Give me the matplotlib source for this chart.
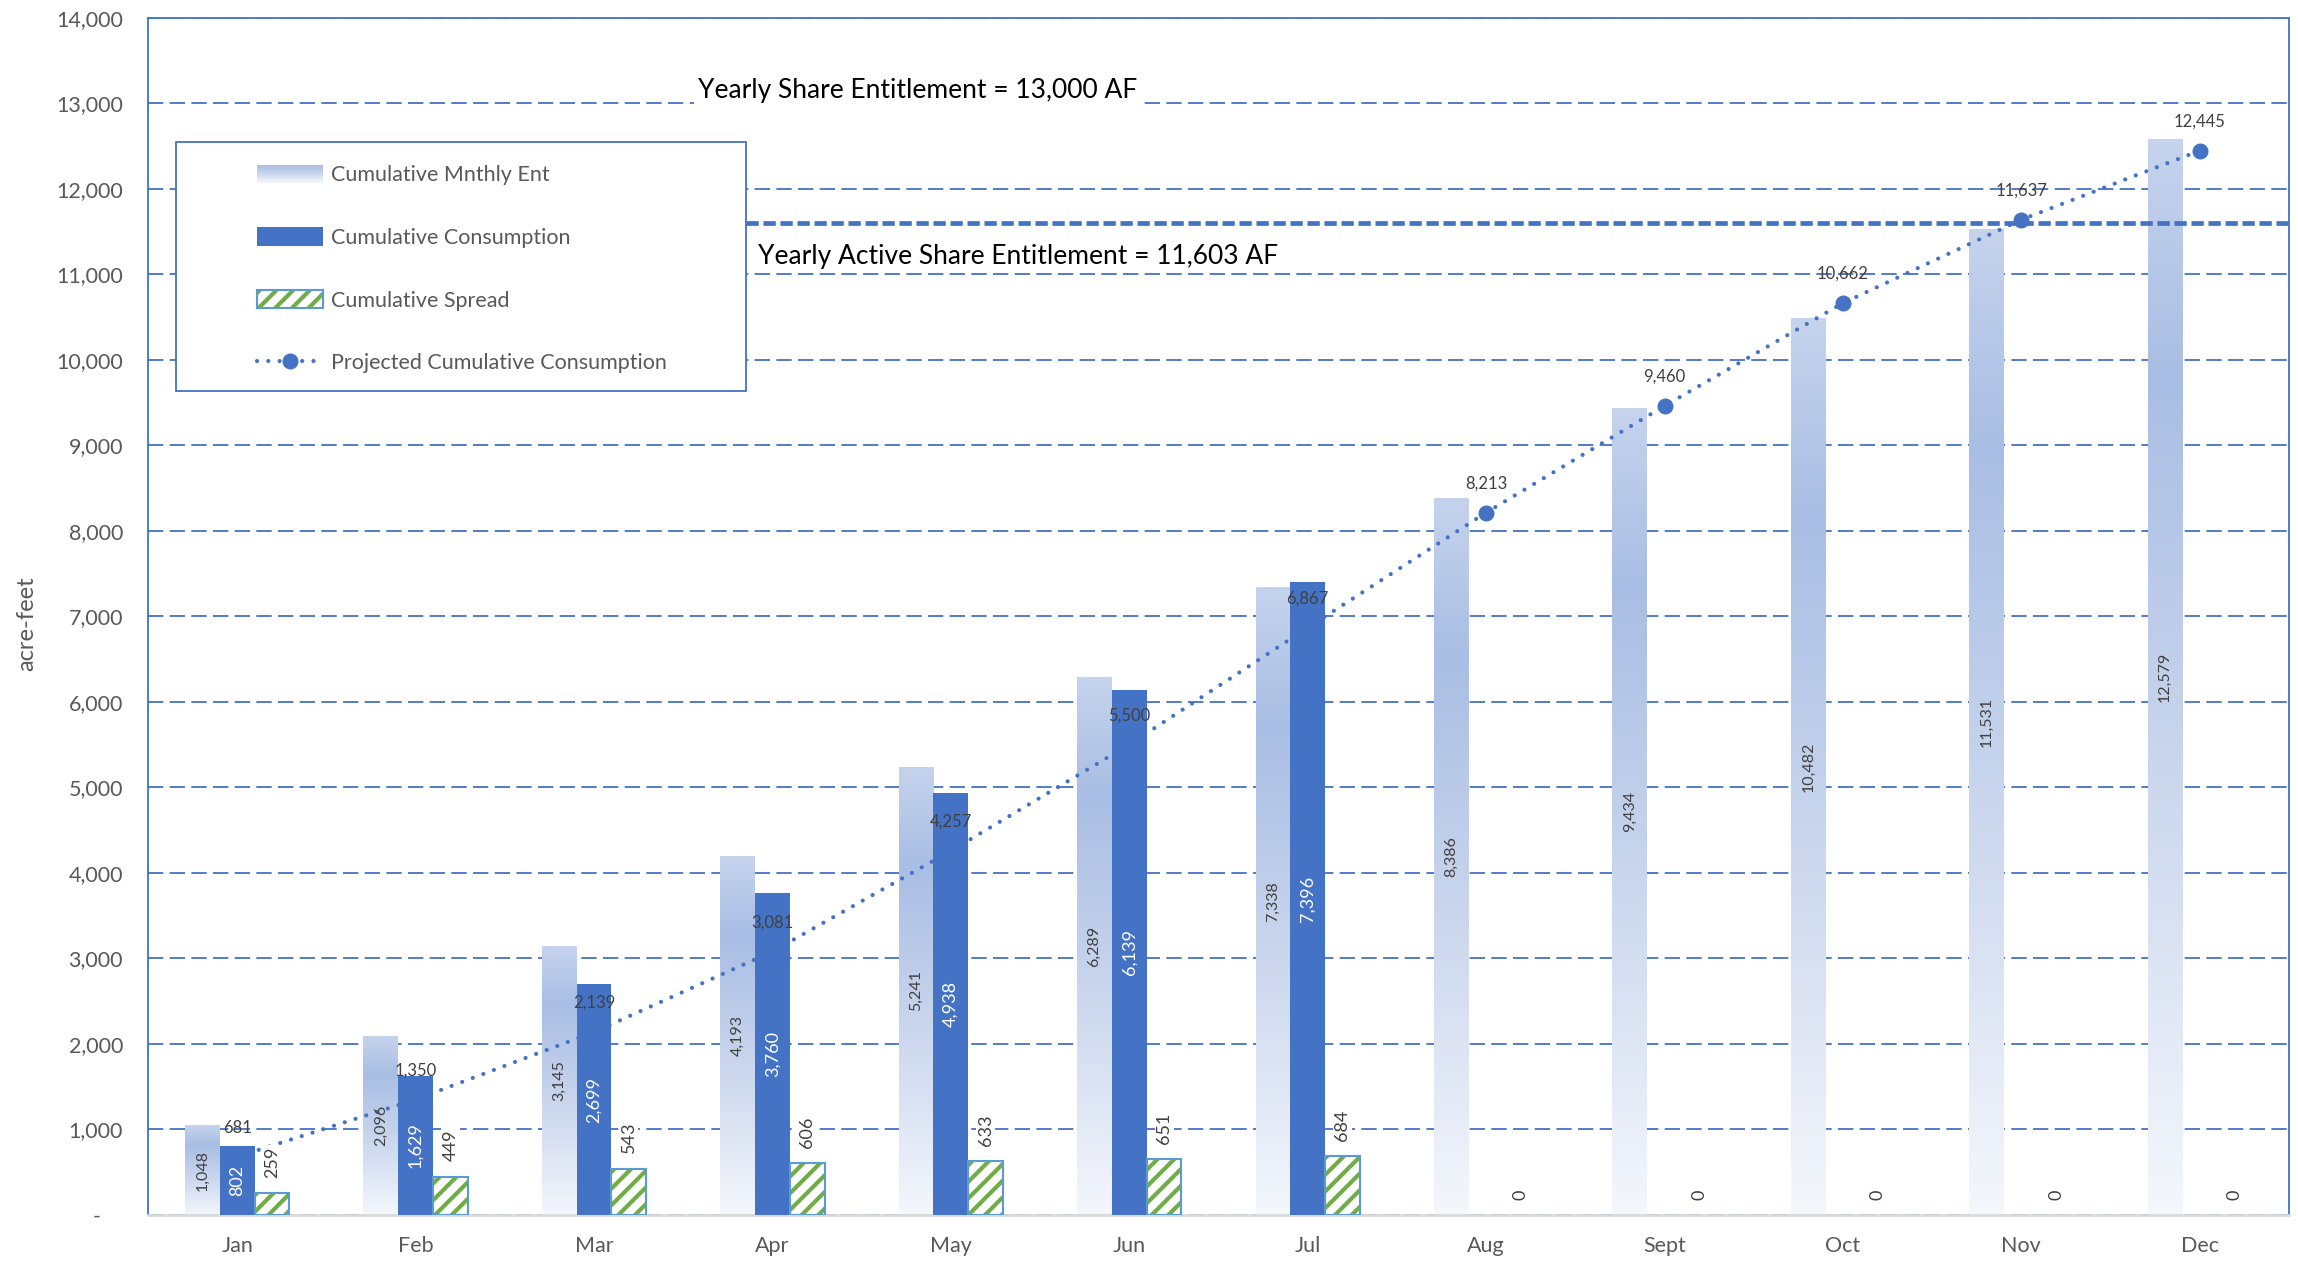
import numpy as np
import matplotlib
matplotlib.use('Agg')
import matplotlib.pyplot as plt
from matplotlib.colors import LinearSegmentedColormap
from matplotlib.patches import Rectangle, Patch
from matplotlib.legend_handler import HandlerBase
from matplotlib.ticker import FuncFormatter

plt.rcParams['font.family'] = ['Lato', 'DejaVu Sans']
plt.rcParams['hatch.linewidth'] = 3.0

# --- data (acre-feet, cumulative)
months = ['Jan', 'Feb', 'Mar', 'Apr', 'May', 'Jun', 'Jul', 'Aug', 'Sept', 'Oct', 'Nov', 'Dec']
monthly_ent = [1048, 2096, 3145, 4193, 5241, 6289, 7338, 8386, 9434, 10482, 11531, 12579]
consumption = [802, 1629, 2699, 3760, 4938, 6139, 7396]
spread = [259, 449, 543, 606, 633, 651, 684, 0, 0, 0, 0, 0]
projected = [681, 1350, 2139, 3081, 4257, 5500, 6867, 8213, 9460, 10662, 11637, 12445]
share_entitlement = 13000
active_entitlement = 11603
# ---

BLUE = '#4472c4'
GREEN = '#70ad47'
EDGE = '#5b9bd5'
GREY = '#595959'
DARK = '#404040'

ent_cmap = LinearSegmentedColormap.from_list('ent', [
    (0.0, '#f4f7fc'), (0.25, '#dbe3f3'), (0.5, '#c2d0eb'),
    (0.78, '#a9bee4'), (1.0, '#c5d3ed')])

class GradHandler(HandlerBase):
    # vertical gradient swatch for the entitlement bars
    def create_artists(self, legend, orig_handle, xdescent, ydescent,
                       width, height, fontsize, trans):
        n = 24
        arts = []
        for i in range(n):
            f = i / (n - 1)
            r = Rectangle((-xdescent, -ydescent + height * i / n), width,
                          height / n * 1.1, facecolor=ent_cmap(f * 0.8),
                          edgecolor='none', transform=trans)
            arts.append(r)
        return arts

fig = plt.figure(figsize=(22.98, 12.63), dpi=100)
ax = fig.add_axes([148 / 2298, 48 / 1263, 2141 / 2298, 1197.4 / 1263])

x = np.arange(len(months))
w = 0.195

# entitlement bars: empty outlines filled with a clipped gradient image
ent_bars = ax.bar(x - w, monthly_ent, w, color='none', edgecolor='none', zorder=1)
grad = np.linspace(0, 1, 256).reshape(-1, 1)
for p in ent_bars:
    x0, h = p.get_x(), p.get_height()
    im = ax.imshow(grad, cmap=ent_cmap, extent=[x0, x0 + p.get_width(), 0, h],
                   aspect='auto', origin='lower', zorder=1)
    im.set_clip_path(p)

cons_bars = ax.bar(x[:len(consumption)], consumption, w, color=BLUE, zorder=3)

sp_bars = ax.bar(x + w, spread, w, color='white', edgecolor=GREEN, hatch='//',
                 linewidth=0, zorder=3)
sp_edges = ax.bar(x + w, spread, w, color='none', edgecolor=EDGE, linewidth=1.5,
                  zorder=3.1)
for p, v in zip(sp_edges, spread):
    if v == 0:
        p.set_visible(False)

# entitlement line, starting at the legend box
legend_box = (0.0131, 0.6882, 0.2662, 0.2079)
ax.axhline(active_entitlement, xmin=legend_box[0] + legend_box[2], color=BLUE,
           lw=3.4, ls=(0, (2.6, 1.0)), zorder=2)

proj_line, = ax.plot(x, projected, color=BLUE, lw=3.0, ls=(0, (0.01, 2.7)),
                     dash_capstyle='round', marker='o', markersize=10.5,
                     zorder=2.5)

# data labels
fmt = lambda v: f'{v:,.0f}'
ax.bar_label(ent_bars, labels=[fmt(v) for v in monthly_ent], label_type='center',
             rotation=90, fontsize=11.5, color=DARK, zorder=5)
ax.bar_label(cons_bars, labels=[fmt(v) for v in consumption], label_type='center',
             rotation=90, fontsize=13, color='white', zorder=5)
ax.bar_label(sp_bars, labels=[fmt(v) for v in spread], padding=11,
             rotation=90, fontsize=13, color=DARK, zorder=5,
             bbox=dict(facecolor='white', edgecolor='none', pad=1))
for xi, v in zip(x, projected):
    ax.annotate(fmt(v), (xi, v), xytext=(0, 21), textcoords='offset points',
                ha='center', va='center', fontsize=12, color=DARK, zorder=5)

ax.text(2.583, 13145, f'Yearly Share Entitlement = {share_entitlement:,} AF',
        fontsize=19, color='black', va='center', ha='left', zorder=5,
        bbox=dict(facecolor='white', edgecolor='none', pad=3))
ax.text(2.919, 11212, f'Yearly Active Share Entitlement = {active_entitlement:,} AF',
        fontsize=19, color='black', va='center', ha='left', zorder=5)

# axes
ax.set_xlim(-0.5, 11.5)
ax.set_ylim(0, 14000)
ax.set_yticks(np.arange(0, 14001, 1000))
ax.yaxis.set_major_formatter(FuncFormatter(lambda v, p: '-    ' if v == 0 else f'{v:,.0f}'))
ax.set_xticks(x)
ax.set_xticklabels(months)
ax.tick_params(axis='y', length=0, pad=18, labelsize=15.5, labelcolor=GREY)
ax.tick_params(axis='x', length=0, pad=15, labelsize=15.5, labelcolor=GREY)
ax.yaxis.grid(True, color=BLUE, lw=1.3, ls=(0, (8.5, 3.5)), zorder=0.5)
ax.set_axisbelow(True)
for s in ('left', 'top', 'right'):
    ax.spines[s].set_color(BLUE)
    ax.spines[s].set_linewidth(1.3)
ax.spines['bottom'].set_color('#d9d9d9')
ax.spines['bottom'].set_linewidth(2)
ax.set_ylabel('acre-feet', fontsize=17, color=GREY)
ax.yaxis.set_label_coords(-0.0515, 0.494)

# legend: white box with blue border, entries inside
ax.add_patch(Rectangle(legend_box[:2], legend_box[2], legend_box[3],
                       transform=ax.transAxes, facecolor='white',
                       edgecolor=BLUE, lw=1.3, zorder=6))
ent_proxy = Rectangle((0, 0), 1, 1)
cons_proxy = Patch(facecolor=BLUE)
sp_proxy = (Patch(facecolor='white', edgecolor=GREEN, hatch='//', lw=0),
            Patch(facecolor='none', edgecolor=EDGE, lw=1.5))
leg = ax.legend([ent_proxy, cons_proxy, sp_proxy, proj_line],
                ['Cumulative Mnthly Ent', 'Cumulative Consumption',
                 'Cumulative Spread', 'Projected Cumulative Consumption'],
                handler_map={ent_proxy: GradHandler()},
                loc='upper left', bbox_to_anchor=(0.0507, 0.877), frameon=False,
                borderpad=0, borderaxespad=0, fontsize=15.5, labelcolor=GREY,
                handlelength=3.07, handleheight=0.93, handletextpad=0.37,
                labelspacing=1.95)
leg.set_zorder(7)

fig.savefig('out.png', dpi=100)
